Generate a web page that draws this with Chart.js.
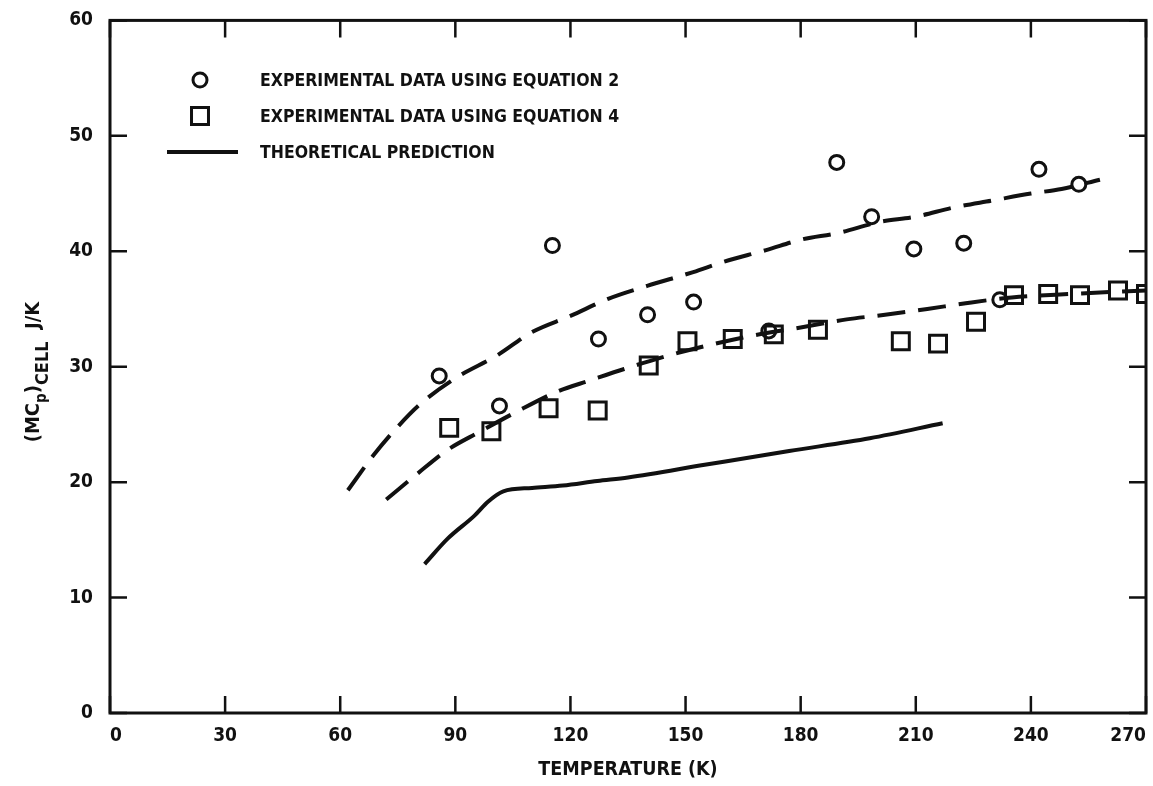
<!DOCTYPE html>
<html lang="en">
<head>
    <meta charset="UTF-8">
    <title>Cell heat capacity vs temperature</title>
    <script src="https://cdn.jsdelivr.net/npm/chart.js"></script>
    <style>
        body { margin: 0; background: #fff; }
        canvas { display: block; }
    </style>
</head>
<body>
    <canvas id="cpChart" width="1153" height="786"></canvas>

    <script>
        // experimental data, equation 2 (circles)
        const eq2Temp = [85.8, 101.5, 115.3, 127.3, 140.1, 152.1, 171.7, 189.4, 198.5, 209.5, 222.5, 231.9, 242.1, 252.5];
        const eq2Val  = [29.2, 26.6, 40.5, 32.4, 34.5, 35.6, 33.1, 47.7, 43.0, 40.2, 40.7, 35.8, 47.1, 45.8];

        // experimental data, equation 4 (squares)
        const eq4Temp = [88.4, 99.4, 114.3, 127.1, 140.4, 150.5, 162.3, 173.0, 184.5, 206.1, 215.8, 225.7, 235.6, 244.5, 252.8, 262.7, 270];
        const eq4Val  = [24.7, 24.4, 26.4, 26.2, 30.1, 32.2, 32.4, 32.8, 33.2, 32.2, 32.0, 33.9, 36.2, 36.3, 36.2, 36.6, 36.3];

        // dashed curves drawn through the data
        const upperTemp = [62, 68.6, 75, 81, 90, 101, 110, 120, 130, 140, 152, 160, 171, 180, 190, 200, 210, 220, 230, 240, 248, 258];
        const upperVal  = [19.3, 22.3, 24.8, 26.8, 29.0, 31.0, 33.0, 34.4, 35.9, 37.0, 38.2, 39.1, 40.1, 41.0, 41.6, 42.5, 43.0, 43.8, 44.4, 45.0, 45.4, 46.2];
        const lowerTemp = [72, 80, 88, 96, 106, 117, 125, 134, 147, 166, 180, 192, 202, 213, 223, 235, 250, 270];
        const lowerVal  = [18.5, 20.7, 22.8, 24.3, 26.1, 27.9, 28.8, 29.8, 31.1, 32.6, 33.4, 34.1, 34.5, 35.0, 35.5, 36.0, 36.3, 36.6];

        // theoretical prediction
        const theoryTemp = [82, 88, 95, 98.5, 102.5, 110, 118, 127, 135, 155, 177, 198, 217];
        const theoryVal  = [12.9, 15.1, 17.1, 18.3, 19.2, 19.5, 19.7, 20.1, 20.4, 21.5, 22.7, 23.8, 25.1];

        const legendLabels = ['EXPERIMENTAL DATA USING EQUATION 2', 'EXPERIMENTAL DATA USING EQUATION 4', 'THEORETICAL PREDICTION'];

        const toPoints = (xs, ys) => xs.map((x, i) => ({ x: x, y: ys[i] }));

        const INK = '#111';
        const FONT = "'Liberation Sans Narrow', 'DejaVu Sans Condensed', sans-serif";

        // frame + inward ticks on all four sides, y title with subscripts, legend inside plot
        const decorations = {
            id: 'decorations',
            afterDraw(chart) {
                const ctx = chart.ctx;
                const a = chart.chartArea;
                const xs = chart.scales.x, ys = chart.scales.y;
                ctx.save();
                ctx.strokeStyle = INK;
                ctx.lineWidth = 3;
                ctx.strokeRect(a.left, a.top, a.right - a.left, a.bottom - a.top);

                const tl = 17;
                ctx.lineWidth = 2.5;
                ctx.beginPath();
                xs.ticks.forEach(t => {
                    const px = xs.getPixelForValue(t.value);
                    ctx.moveTo(px, a.bottom); ctx.lineTo(px, a.bottom - tl);
                    ctx.moveTo(px, a.top); ctx.lineTo(px, a.top + tl);
                });
                ys.ticks.forEach(t => {
                    const py = ys.getPixelForValue(t.value);
                    ctx.moveTo(a.left, py); ctx.lineTo(a.left + tl, py);
                    ctx.moveTo(a.right, py); ctx.lineTo(a.right - tl, py);
                });
                ctx.stroke();

                // y axis title: (MC_p)_CELL J/K
                ctx.fillStyle = INK;
                ctx.translate(34, 372);
                ctx.rotate(-Math.PI / 2);
                const parts = [
                    { t: '(MC', size: 20, dy: 0 },
                    { t: 'p', size: 15, dy: 8 },
                    { t: ')', size: 20, dy: 0 },
                    { t: 'CELL', size: 18, dy: 9 },
                    { t: '  J/K', size: 20, dy: 0 }
                ];
                let total = 0;
                parts.forEach(p => { ctx.font = 'bold ' + p.size + 'px ' + FONT; p.w = ctx.measureText(p.t).width; total += p.w; });
                let cx = -total / 2;
                ctx.textBaseline = 'middle';
                ctx.textAlign = 'left';
                parts.forEach(p => {
                    ctx.font = 'bold ' + p.size + 'px ' + FONT;
                    ctx.fillText(p.t, cx, p.dy);
                    cx += p.w;
                });
                ctx.setTransform(1, 0, 0, 1, 0, 0);

                // legend (hollow markers, like the plotted ones)
                const rows = [80, 116, 152];
                const ds = chart.data.datasets;
                ctx.lineWidth = 3;
                ctx.strokeStyle = INK;
                ctx.fillStyle = 'rgba(0,0,0,0)';
                Chart.helpers.drawPoint(ctx, { pointStyle: 'circle', radius: ds[0].pointRadius, borderWidth: 3 }, 200, rows[0]);
                Chart.helpers.drawPoint(ctx, { pointStyle: 'rect', radius: ds[1].pointRadius, borderWidth: 3 }, 200, rows[1]);
                ctx.beginPath();
                ctx.lineWidth = 4;
                ctx.moveTo(167, rows[2]); ctx.lineTo(238, rows[2]);
                ctx.stroke();
                ctx.fillStyle = INK;
                ctx.font = 'bold 17.5px ' + FONT;
                ctx.textBaseline = 'middle';
                ctx.textAlign = 'left';
                legendLabels.forEach((l, i) => ctx.fillText(l, 260, rows[i] + 1));
                ctx.restore();
            }
        };

        new Chart(document.getElementById('cpChart'), {
            type: 'scatter',
            data: {
                datasets: [
                    {
                        label: legendLabels[0],
                        data: toPoints(eq2Temp, eq2Val),
                        pointStyle: 'circle',
                        pointRadius: 7,
                        borderWidth: 3,
                        borderColor: INK,
                        backgroundColor: 'rgba(0,0,0,0)',
                        order: 0
                    },
                    {
                        label: legendLabels[1],
                        data: toPoints(eq4Temp, eq4Val),
                        pointStyle: 'rect',
                        pointRadius: 12,
                        borderWidth: 3,
                        borderColor: INK,
                        backgroundColor: 'rgba(0,0,0,0)',
                        order: 0
                    },
                    {
                        label: legendLabels[2],
                        data: toPoints(theoryTemp, theoryVal),
                        showLine: true,
                        pointRadius: 0,
                        borderWidth: 4,
                        borderColor: INK,
                        cubicInterpolationMode: 'monotone',
                        order: 1
                    },
                    {
                        label: 'upper fit',
                        data: toPoints(upperTemp, upperVal),
                        showLine: true,
                        pointRadius: 0,
                        borderWidth: 4,
                        borderColor: INK,
                        borderDash: [28, 13],
                        cubicInterpolationMode: 'monotone',
                        order: 1
                    },
                    {
                        label: 'lower fit',
                        data: toPoints(lowerTemp, lowerVal),
                        showLine: true,
                        pointRadius: 0,
                        borderWidth: 4,
                        borderColor: INK,
                        borderDash: [28, 13],
                        cubicInterpolationMode: 'monotone',
                        order: 1
                    }
                ]
            },
            options: {
                responsive: false,
                animation: false,
                // no automatic room for the big square markers; the plot runs almost to the right edge
                layout: { autoPadding: false, padding: { left: 0, top: 14, right: 7, bottom: 0 } },
                plugins: {
                    legend: { display: false },
                    tooltip: { enabled: false }
                },
                scales: {
                    x: {
                        type: 'linear',
                        min: 0,
                        max: 270,
                        // invisible outer ticks only push the labels down (tick marks are drawn inward by the plugin)
                        grid: {
                            display: true,
                            drawOnChartArea: false,
                            drawTicks: true,
                            tickLength: 12,
                            tickColor: 'rgba(0,0,0,0)'
                        },
                        border: { display: false },
                        ticks: {
                            stepSize: 30,
                            align: 'inner',
                            color: INK,
                            padding: 0,
                            font: { family: FONT, size: 19, weight: 'bold' }
                        },
                        title: {
                            display: true,
                            text: 'TEMPERATURE (K)',
                            color: INK,
                            font: { family: FONT, size: 19.5, weight: 'bold' },
                            padding: { top: 4 }
                        },
                        afterFit(scale) { scale.height = 73; }
                    },
                    y: {
                        min: 0,
                        max: 60,
                        grid: { display: false },
                        border: { display: false },
                        ticks: {
                            stepSize: 10,
                            color: INK,
                            padding: 9,
                            font: { family: FONT, size: 19, weight: 'bold' }
                        },
                        afterFit(scale) { scale.width = 110; }
                    }
                }
            },
            plugins: [decorations]
        });
    </script>
</body>
</html>
